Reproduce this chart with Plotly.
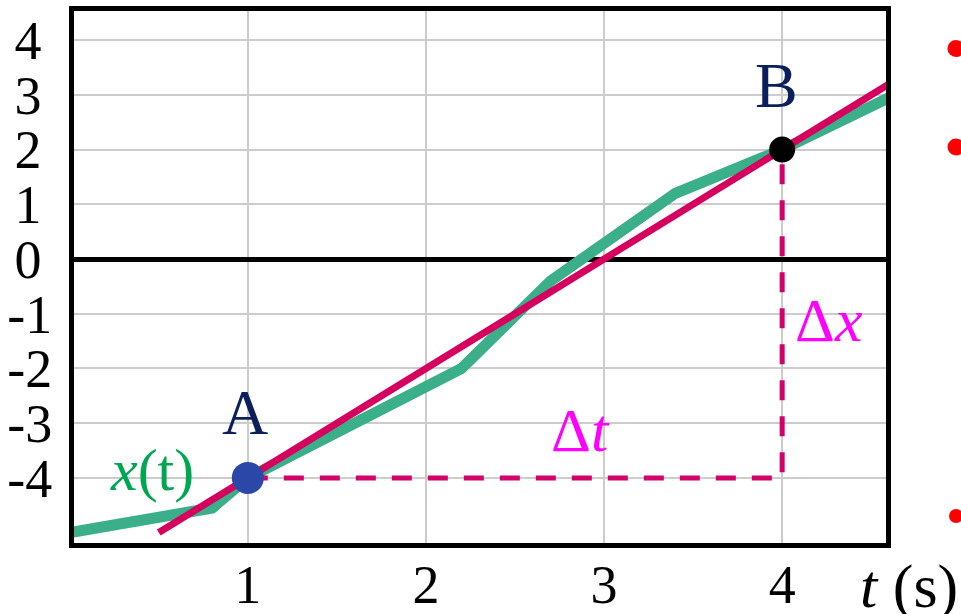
import plotly.graph_objects as go

# ---- data ----
green_t = [0.0, 0.8, 1.0, 2.2, 2.7, 3.4, 4.0, 4.6]
green_x = [-5.0, -4.55, -4.0, -2.0, -0.4, 1.2, 2.0, 2.95]
red_t = [0.5, 4.65]
red_x = [-5.0, 3.3]
point_A = (1.0, -4.0)
point_B = (4.0, 2.0)
x_ticks = [1, 2, 3, 4]
x_ticktext = ["1", "2", "3", "4"]
y_ticks = [-4, -3, -2, -1, 0, 1, 2, 3, 4]
y_ticktext = ["-4", "-3", "-2", "-1", "0\u2009", "1\u2009", "2\u2009", "3\u2009", "4\u2009"]

SERIF = "Liberation Serif, Times New Roman, serif"
GREEN = "#3BAE8A"
RED = "#D6005E"
DASH = "#D4006A"

fig = go.Figure()
fig.add_trace(go.Scatter(x=green_t, y=green_x, mode="lines",
                         line=dict(color=GREEN, width=11), hoverinfo="skip"))
fig.add_trace(go.Scatter(x=red_t, y=red_x, mode="lines",
                         line=dict(color=RED, width=7), hoverinfo="skip"))
# dashed helper lines: A -> (B.t, A.x) -> B
fig.add_trace(go.Scatter(x=[point_A[0], point_B[0], point_B[0]],
                         y=[point_A[1], point_A[1], point_B[1]], mode="lines",
                         line=dict(color=DASH, width=5, dash="20px,16px"), hoverinfo="skip"))
fig.add_trace(go.Scatter(x=[point_A[0]], y=[point_A[1]], mode="markers",
                         marker=dict(color="#2B48A8", size=32), cliponaxis=False, hoverinfo="skip"))
fig.add_trace(go.Scatter(x=[point_B[0]], y=[point_B[1]], mode="markers",
                         marker=dict(color="#000000", size=26), cliponaxis=False, hoverinfo="skip"))

ann = []
ann.append(dict(x=0.985, y=-2.81, xref="x", yref="y", text="A", showarrow=False,
                font=dict(family=SERIF, size=64, color="#0B1F5C")))
ann.append(dict(x=3.97, y=3.17, xref="x", yref="y", text="B", showarrow=False,
                font=dict(family=SERIF, size=64, color="#0B1F5C")))
ann.append(dict(x=0.46, y=-3.85, xref="x", yref="y", text="<i>x</i>(t)", showarrow=False,
                font=dict(family=SERIF, size=60, color="#00A651")))
ann.append(dict(x=2.87, y=-3.12, xref="x", yref="y", text="Δ<i>t</i>", showarrow=False,
                font=dict(family=SERIF, size=62, color="#FF00FF")))
ann.append(dict(x=4.265, y=-1.12, xref="x", yref="y", text="Δ<i>x</i>", showarrow=False,
                font=dict(family=SERIF, size=62, color="#FF00FF")))

# body margin is removed by the post script -> figure fills the window
OFF = 0
W, H = 961 - OFF, 614 - OFF
ML, MT = 74 - OFF, 11 - OFF
MR, MB = W - (886 - OFF), H - (543 - OFF)
pw, ph = W - ML - MR, H - MT - MB

def px2paper(sx, sy):
    fx, fy = sx - OFF, sy - OFF
    return (fx - ML) / pw, (H - MB - fy) / ph

tx, ty = px2paper(909, 586)
ann.append(dict(x=tx, y=ty, xref="paper", yref="paper", text="<i>t</i> (s)",
                showarrow=False, xanchor="center", yanchor="middle",
                font=dict(family=SERIF, size=62, color="#000000")))

# decorative red bullet dots at the right edge (slide remnants)
shapes = []
for (cx, cy, r) in [(956, 48.5, 8.5), (956, 147, 8.5), (956, 516, 7)]:
    x0, y0 = px2paper(cx - r, cy + r)
    x1, y1 = px2paper(cx + r, cy - r)
    shapes.append(dict(type="circle", xref="paper", yref="paper", x0=x0, y0=y0, x1=x1, y1=y1,
                       fillcolor="#FF0000", line=dict(width=0), layer="above"))

fig.update_layout(
    width=W, height=H,
    margin=dict(l=ML, r=MR, t=MT, b=MB, autoexpand=False),
    paper_bgcolor="white", plot_bgcolor="white",
    showlegend=False, hovermode=False,
    annotations=ann, shapes=shapes,
    font=dict(family=SERIF, color="black"),
)
fig.update_xaxes(range=[0.024, 4.583], tickvals=x_ticks, ticktext=x_ticktext,
                 showgrid=True, gridcolor="#CCCCCC", gridwidth=2,
                 showline=True, linecolor="black", linewidth=5, mirror=True,
                 zeroline=False, ticks="", ticklabelstandoff=-10, automargin=False,
                 tickfont=dict(family=SERIF, size=54, color="black"))
fig.update_yaxes(range=[-5.19, 4.533], tickvals=y_ticks, ticktext=y_ticktext,
                 showgrid=True, gridcolor="#CCCCCC", gridwidth=2,
                 showline=True, linecolor="black", linewidth=5, mirror=True,
                 zeroline=True, zerolinecolor="black", zerolinewidth=5,
                 ticks="", ticklabelstandoff=6, automargin=False,
                 tickfont=dict(family=SERIF, size=54, color="black"))

fig.write_html("out.html", config={"displayModeBar": False, "staticPlot": True},
               post_script="document.body.style.margin='0';document.body.style.overflow='hidden';")
